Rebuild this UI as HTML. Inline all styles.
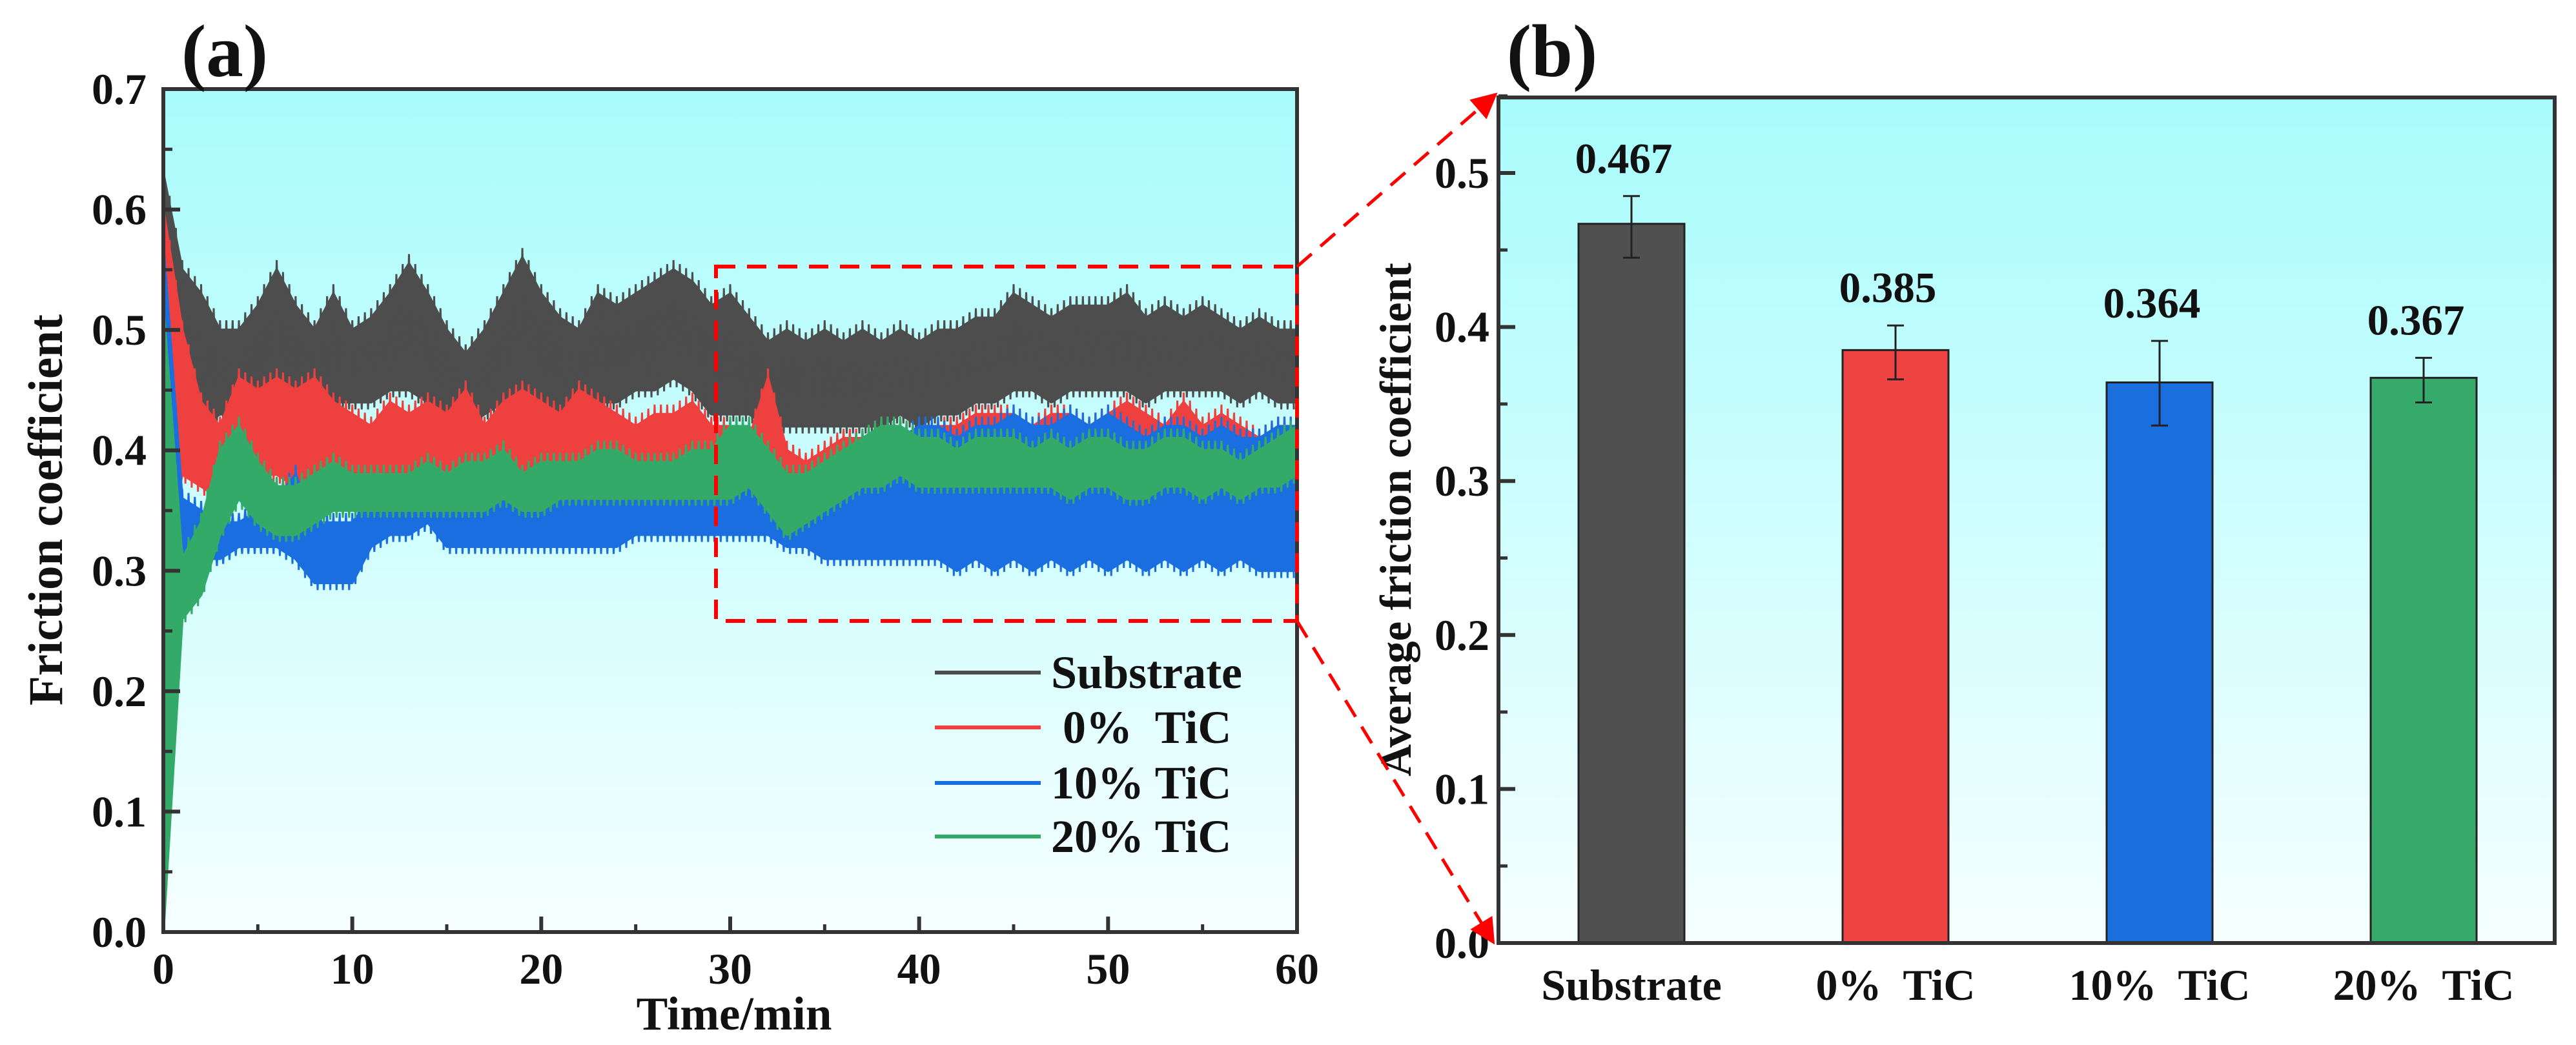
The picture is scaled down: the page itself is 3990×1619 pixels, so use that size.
<!DOCTYPE html>
<html><head><meta charset="utf-8"><style>
html,body{margin:0;padding:0;background:#fff;}
svg{display:block;}
svg text{font-family:"Liberation Serif","Times New Roman",serif;font-weight:bold;}
</style></head><body>
<svg id="fig" width="3990" height="1619" viewBox="0 0 3990 1619" xmlns="http://www.w3.org/2000/svg">
<defs>
<linearGradient id="bg" x1="0" y1="0" x2="0" y2="1">
<stop offset="0" stop-color="#a8fcfc"/><stop offset="1" stop-color="#f6ffff"/>
</linearGradient>
<marker id="ah" markerWidth="8" markerHeight="8" refX="6" refY="4" orient="auto" markerUnits="strokeWidth">
<path d="M0,0 L8,4 L0,8 z" fill="#ff0000"/>
</marker>
</defs>
<g id="chartA"></g>
<g id="chartB"></g>
<g id="overlay"></g>
</svg>
<script>
// ---- Chart (a) data ----
const timeTicks = [0,10,20,30,40,50,60];
const yTicksA = ["0.0","0.1","0.2","0.3","0.4","0.5","0.6","0.7"];
const seriesNames = ["Substrate"," 0%  TiC","10% TiC","20% TiC"];
const subHi = [0.63,0.55,0.53,0.50,0.50,0.52,0.55,0.52,0.50,0.53,0.50,0.51,0.53,0.555,0.53,0.50,0.48,0.50,0.53,0.56,0.53,0.51,0.50,0.53,0.52,0.53,0.54,0.55,0.54,0.52,0.53,0.51,0.49,0.50,0.49,0.50,0.49,0.50,0.49,0.50,0.49,0.50,0.50,0.51,0.51,0.53,0.52,0.51,0.52,0.52,0.52,0.53,0.51,0.52,0.51,0.52,0.51,0.50,0.51,0.50,0.50];
const subLo = [0.42,0.43,0.42,0.43,0.43,0.43,0.45,0.44,0.43,0.44,0.44,0.44,0.45,0.45,0.44,0.43,0.42,0.43,0.44,0.45,0.44,0.43,0.43,0.44,0.44,0.45,0.45,0.46,0.45,0.43,0.43,0.43,0.42,0.42,0.42,0.42,0.42,0.42,0.42,0.43,0.42,0.43,0.43,0.44,0.44,0.45,0.45,0.44,0.45,0.45,0.45,0.45,0.44,0.45,0.45,0.45,0.45,0.44,0.45,0.44,0.44];
const redHi = [0.60,0.50,0.44,0.42,0.46,0.45,0.46,0.45,0.46,0.44,0.43,0.42,0.44,0.43,0.44,0.43,0.45,0.42,0.44,0.45,0.44,0.43,0.45,0.44,0.43,0.42,0.43,0.43,0.44,0.42,0.42,0.41,0.46,0.40,0.39,0.40,0.41,0.41,0.42,0.42,0.41,0.42,0.42,0.43,0.43,0.43,0.42,0.43,0.43,0.42,0.43,0.44,0.43,0.42,0.44,0.42,0.43,0.42,0.41,0.42,0.42];
const redLo = [0.30,0.38,0.37,0.36,0.37,0.38,0.38,0.37,0.38,0.37,0.37,0.36,0.37,0.37,0.38,0.37,0.36,0.37,0.37,0.38,0.37,0.37,0.38,0.37,0.37,0.36,0.37,0.37,0.37,0.36,0.35,0.34,0.34,0.34,0.35,0.35,0.36,0.36,0.36,0.36,0.36,0.36,0.36,0.36,0.36,0.36,0.36,0.36,0.36,0.36,0.36,0.36,0.36,0.36,0.36,0.36,0.36,0.36,0.36,0.36,0.36];
const blueHi = [0.57,0.36,0.35,0.34,0.34,0.35,0.36,0.38,0.34,0.34,0.34,0.36,0.37,0.38,0.37,0.38,0.36,0.36,0.37,0.36,0.37,0.36,0.37,0.37,0.37,0.37,0.37,0.38,0.37,0.38,0.37,0.38,0.37,0.37,0.38,0.37,0.38,0.39,0.40,0.41,0.42,0.42,0.41,0.42,0.42,0.43,0.42,0.42,0.43,0.42,0.43,0.42,0.41,0.42,0.42,0.41,0.42,0.41,0.41,0.42,0.42];
const blueLo = [0.30,0.30,0.31,0.31,0.32,0.32,0.32,0.31,0.29,0.29,0.29,0.32,0.33,0.33,0.34,0.32,0.32,0.32,0.32,0.32,0.32,0.32,0.32,0.32,0.32,0.33,0.33,0.33,0.33,0.33,0.33,0.33,0.33,0.32,0.32,0.31,0.31,0.31,0.31,0.31,0.31,0.31,0.30,0.31,0.30,0.31,0.30,0.31,0.30,0.31,0.30,0.31,0.30,0.31,0.30,0.31,0.30,0.31,0.30,0.30,0.30];
const greenHi = [0.52,0.31,0.34,0.40,0.42,0.39,0.37,0.37,0.38,0.39,0.38,0.38,0.38,0.38,0.39,0.38,0.39,0.39,0.40,0.38,0.39,0.39,0.39,0.40,0.40,0.39,0.39,0.39,0.40,0.40,0.42,0.42,0.40,0.38,0.38,0.39,0.40,0.41,0.42,0.42,0.41,0.41,0.40,0.41,0.41,0.41,0.40,0.41,0.40,0.41,0.41,0.40,0.40,0.41,0.41,0.40,0.40,0.39,0.40,0.41,0.42];
const greenLo = [0.00,0.26,0.28,0.33,0.36,0.34,0.33,0.33,0.34,0.35,0.35,0.35,0.35,0.35,0.35,0.35,0.35,0.35,0.36,0.35,0.35,0.36,0.36,0.36,0.36,0.36,0.36,0.36,0.36,0.36,0.36,0.37,0.35,0.33,0.34,0.35,0.36,0.37,0.37,0.38,0.37,0.37,0.37,0.37,0.37,0.37,0.37,0.37,0.36,0.37,0.37,0.36,0.36,0.37,0.37,0.36,0.37,0.36,0.37,0.37,0.38];
// ---- Chart (b) data ----
const categories = ["Substrate","0%  TiC","10%  TiC","20%  TiC"];
const avgValues = [0.467,0.385,0.364,0.367];
const errUpper = [0.485,0.401,0.391,0.380];
const errLower = [0.445,0.366,0.336,0.351];
const valueLabels = ["0.467","0.385","0.364","0.367"];
const yTicksB = ["0.0","0.1","0.2","0.3","0.4","0.5"];

const NS="http://www.w3.org/2000/svg";
function mk(tag, attrs, parent, text){
  const e=document.createElementNS(NS,tag);
  for(const k in attrs) e.setAttribute(k,attrs[k]);
  if(text!==undefined) e.textContent=text;
  parent.appendChild(e); return e;
}
const colors=["#4d4d4d","#ef4040","#1a6ee0","#34aa68"];

// ===== Chart A =====
const A=document.getElementById('chartA');
const aL=253,aR=2009,aT=138,aB=1444;
const ax=t=>aL+(t/60)*(aR-aL);
const ay=v=>aB-(v/0.7)*(aB-aT);
let bgA=mk('rect',{x:aL,y:aT,width:aR-aL,height:aB-aT,fill:'url(#bg)'},A);


const his=[subHi,redHi,blueHi,greenHi], los=[subLo,redLo,blueLo,greenLo];
const snames=['substrate-series','tic-0-series','tic-10-series','tic-20-series'];
for(let s=0;s<4;s++){
  const hi=his[s],lo=los[s];
  let pts=[];
  for(let i=0;i<hi.length;i++) pts.push(ax(i)+','+ay(hi[i]));
  for(let i=lo.length-1;i>=0;i--) pts.push(ax(i)+','+ay(lo[i]));
  let pg=mk('polygon',{points:pts.join(' '),fill:colors[s],stroke:colors[s],'stroke-width':4,'stroke-linejoin':'round'},A);
  
  
  let zz=[];
  for(let i=0;i<hi.length-1;i++){
    for(let k=0;k<6;k++){
      const t=i+k/6;
      const h=hi[i]+(hi[i+1]-hi[i])*k/6, l=lo[i]+(lo[i+1]-lo[i])*k/6;
      zz.push(ax(t)+','+ay(k%2===0?h+0.008:l-0.006));
    }
  }
  let zl=mk('polyline',{points:zz.join(' '),fill:'none',stroke:colors[s],'stroke-width':3},A);
  
  
}
let frA=mk('rect',{x:aL,y:aT,width:aR-aL,height:aB-aT,fill:'none',stroke:'#333','stroke-width':6},A);


for(let i=0;i<yTicksA.length;i++){
  const v=i*0.1,y=ay(v);
  if(i>0&&i<yTicksA.length-1) mk('line',{x1:aL,y1:y,x2:aL+26,y2:y,stroke:'#333','stroke-width':6},A);
  if(i<yTicksA.length-1) mk('line',{x1:aL,y1:ay(v+0.05),x2:aL+14,y2:ay(v+0.05),stroke:'#333','stroke-width':5},A);
  let t=mk('text',{x:aL-26,y:y+23,'font-size':68,'text-anchor':'end',fill:'#111'},A,yTicksA[i]);
  
  
}
for(let i=0;i<timeTicks.length;i++){
  const x=ax(timeTicks[i]);
  if(i>0&&i<timeTicks.length-1) mk('line',{x1:x,y1:aB,x2:x,y2:aB-24,stroke:'#333','stroke-width':6},A);
  if(i<timeTicks.length-1) mk('line',{x1:ax(timeTicks[i]+5),y1:aB,x2:ax(timeTicks[i]+5),y2:aB-12,stroke:'#333','stroke-width':5},A);
  let t=mk('text',{x:x,y:aB+80,'font-size':68,'text-anchor':'middle',fill:'#111'},A,String(timeTicks[i]));
  
  
}
let xt=mk('text',{x:1137,y:1595,'font-size':73,'text-anchor':'middle',fill:'#111'},A,'Time/min');


let yt=mk('text',{x:0,y:0,'font-size':75,'text-anchor':'middle',fill:'#111',transform:'translate(96,790) rotate(-90)'},A,'Friction coefficient');


let pa=mk('text',{x:348,y:118,'font-size':115,'text-anchor':'middle',fill:'#111'},A,'(a)');


const legY=[1042,1127,1213,1296];
for(let s=0;s<4;s++){
  let g=mk('g',{},A);
  
  
  mk('line',{x1:1448,y1:legY[s],x2:1612,y2:legY[s],stroke:colors[s],'stroke-width':6},g);
  mk('text',{x:1628,y:legY[s]+24,'font-size':72,fill:'#111',style:'white-space:pre'},g,seriesNames[s]);
}

// ===== Chart B =====
const B=document.getElementById('chartB');
const bL=2321,bR=3957,bT=151,bB=1461;
const by=v=>bB-v*((bB-268)/0.5);
const bx=i=>2527+i*409;
let bgB=mk('rect',{x:bL,y:bT,width:bR-bL,height:bB-bT,fill:'url(#bg)'},B);


const barNames=['bar-substrate','bar-0-tic','bar-10-tic','bar-20-tic'];
const barCols=["#505050","#ee4444","#1a6edd","#35aa6a"];
for(let i=0;i<categories.length;i++){
  const x=bx(i),w=164;
  let r=mk('rect',{x:x-w/2,y:by(avgValues[i]),width:w,height:by(0)-by(avgValues[i]),fill:barCols[i],stroke:'#222','stroke-width':3},B);
  
  
  let e=mk('g',{stroke:'#222','stroke-width':3},B);
  
  
  mk('line',{x1:x,y1:by(errUpper[i]),x2:x,y2:by(errLower[i])},e);
  mk('line',{x1:x-13,y1:by(errUpper[i]),x2:x+13,y2:by(errUpper[i])},e);
  mk('line',{x1:x-13,y1:by(errLower[i]),x2:x+13,y2:by(errLower[i])},e);
  let vl=mk('text',{x:x-12,y:by(errUpper[i])-36,'font-size':67,'text-anchor':'middle',fill:'#111'},B,valueLabels[i]);
  
  
  let cl=mk('text',{x:x,y:1549,'font-size':68,'text-anchor':'middle',fill:'#111',style:'white-space:pre'},B,categories[i]);
  
  
}
let frB=mk('rect',{x:bL,y:bT,width:bR-bL,height:bB-bT,fill:'none',stroke:'#333','stroke-width':6},B);


for(let i=0;i<yTicksB.length;i++){
  const v=i*0.1,y=by(v);
  if(i>0) mk('line',{x1:bL,y1:y,x2:bL+26,y2:y,stroke:'#333','stroke-width':6},B);
  mk('line',{x1:bL,y1:by(v+0.05),x2:bL+14,y2:by(v+0.05),stroke:'#333','stroke-width':5},B);
  let t=mk('text',{x:bL-14,y:y+23,'font-size':68,'text-anchor':'end',fill:'#111'},B,yTicksB[i]);
  
  
}
let ytb=mk('text',{x:0,y:0,'font-size':69,'text-anchor':'middle',fill:'#111',transform:'translate(2185,805) rotate(-90)'},B,'Average friction coefficient');


let pb=mk('text',{x:2404,y:118,'font-size':115,'text-anchor':'middle',fill:'#111'},B,'(b)');



// ===== overlay =====
const O=document.getElementById('overlay');
let dr=mk('rect',{x:1109,y:413,width:900,height:549,fill:'none',stroke:'#ff0000','stroke-width':6,'stroke-dasharray':'30 18'},O);


let l1=mk('line',{x1:2009,y1:413,x2:2312,y2:150,stroke:'#ff0000','stroke-width':5,'stroke-dasharray':'30 18','marker-end':'url(#ah)'},O);


let l2=mk('line',{x1:2009,y1:962,x2:2310,y2:1455,stroke:'#ff0000','stroke-width':5,'stroke-dasharray':'30 18','marker-end':'url(#ah)'},O);


</script>
</body></html>
